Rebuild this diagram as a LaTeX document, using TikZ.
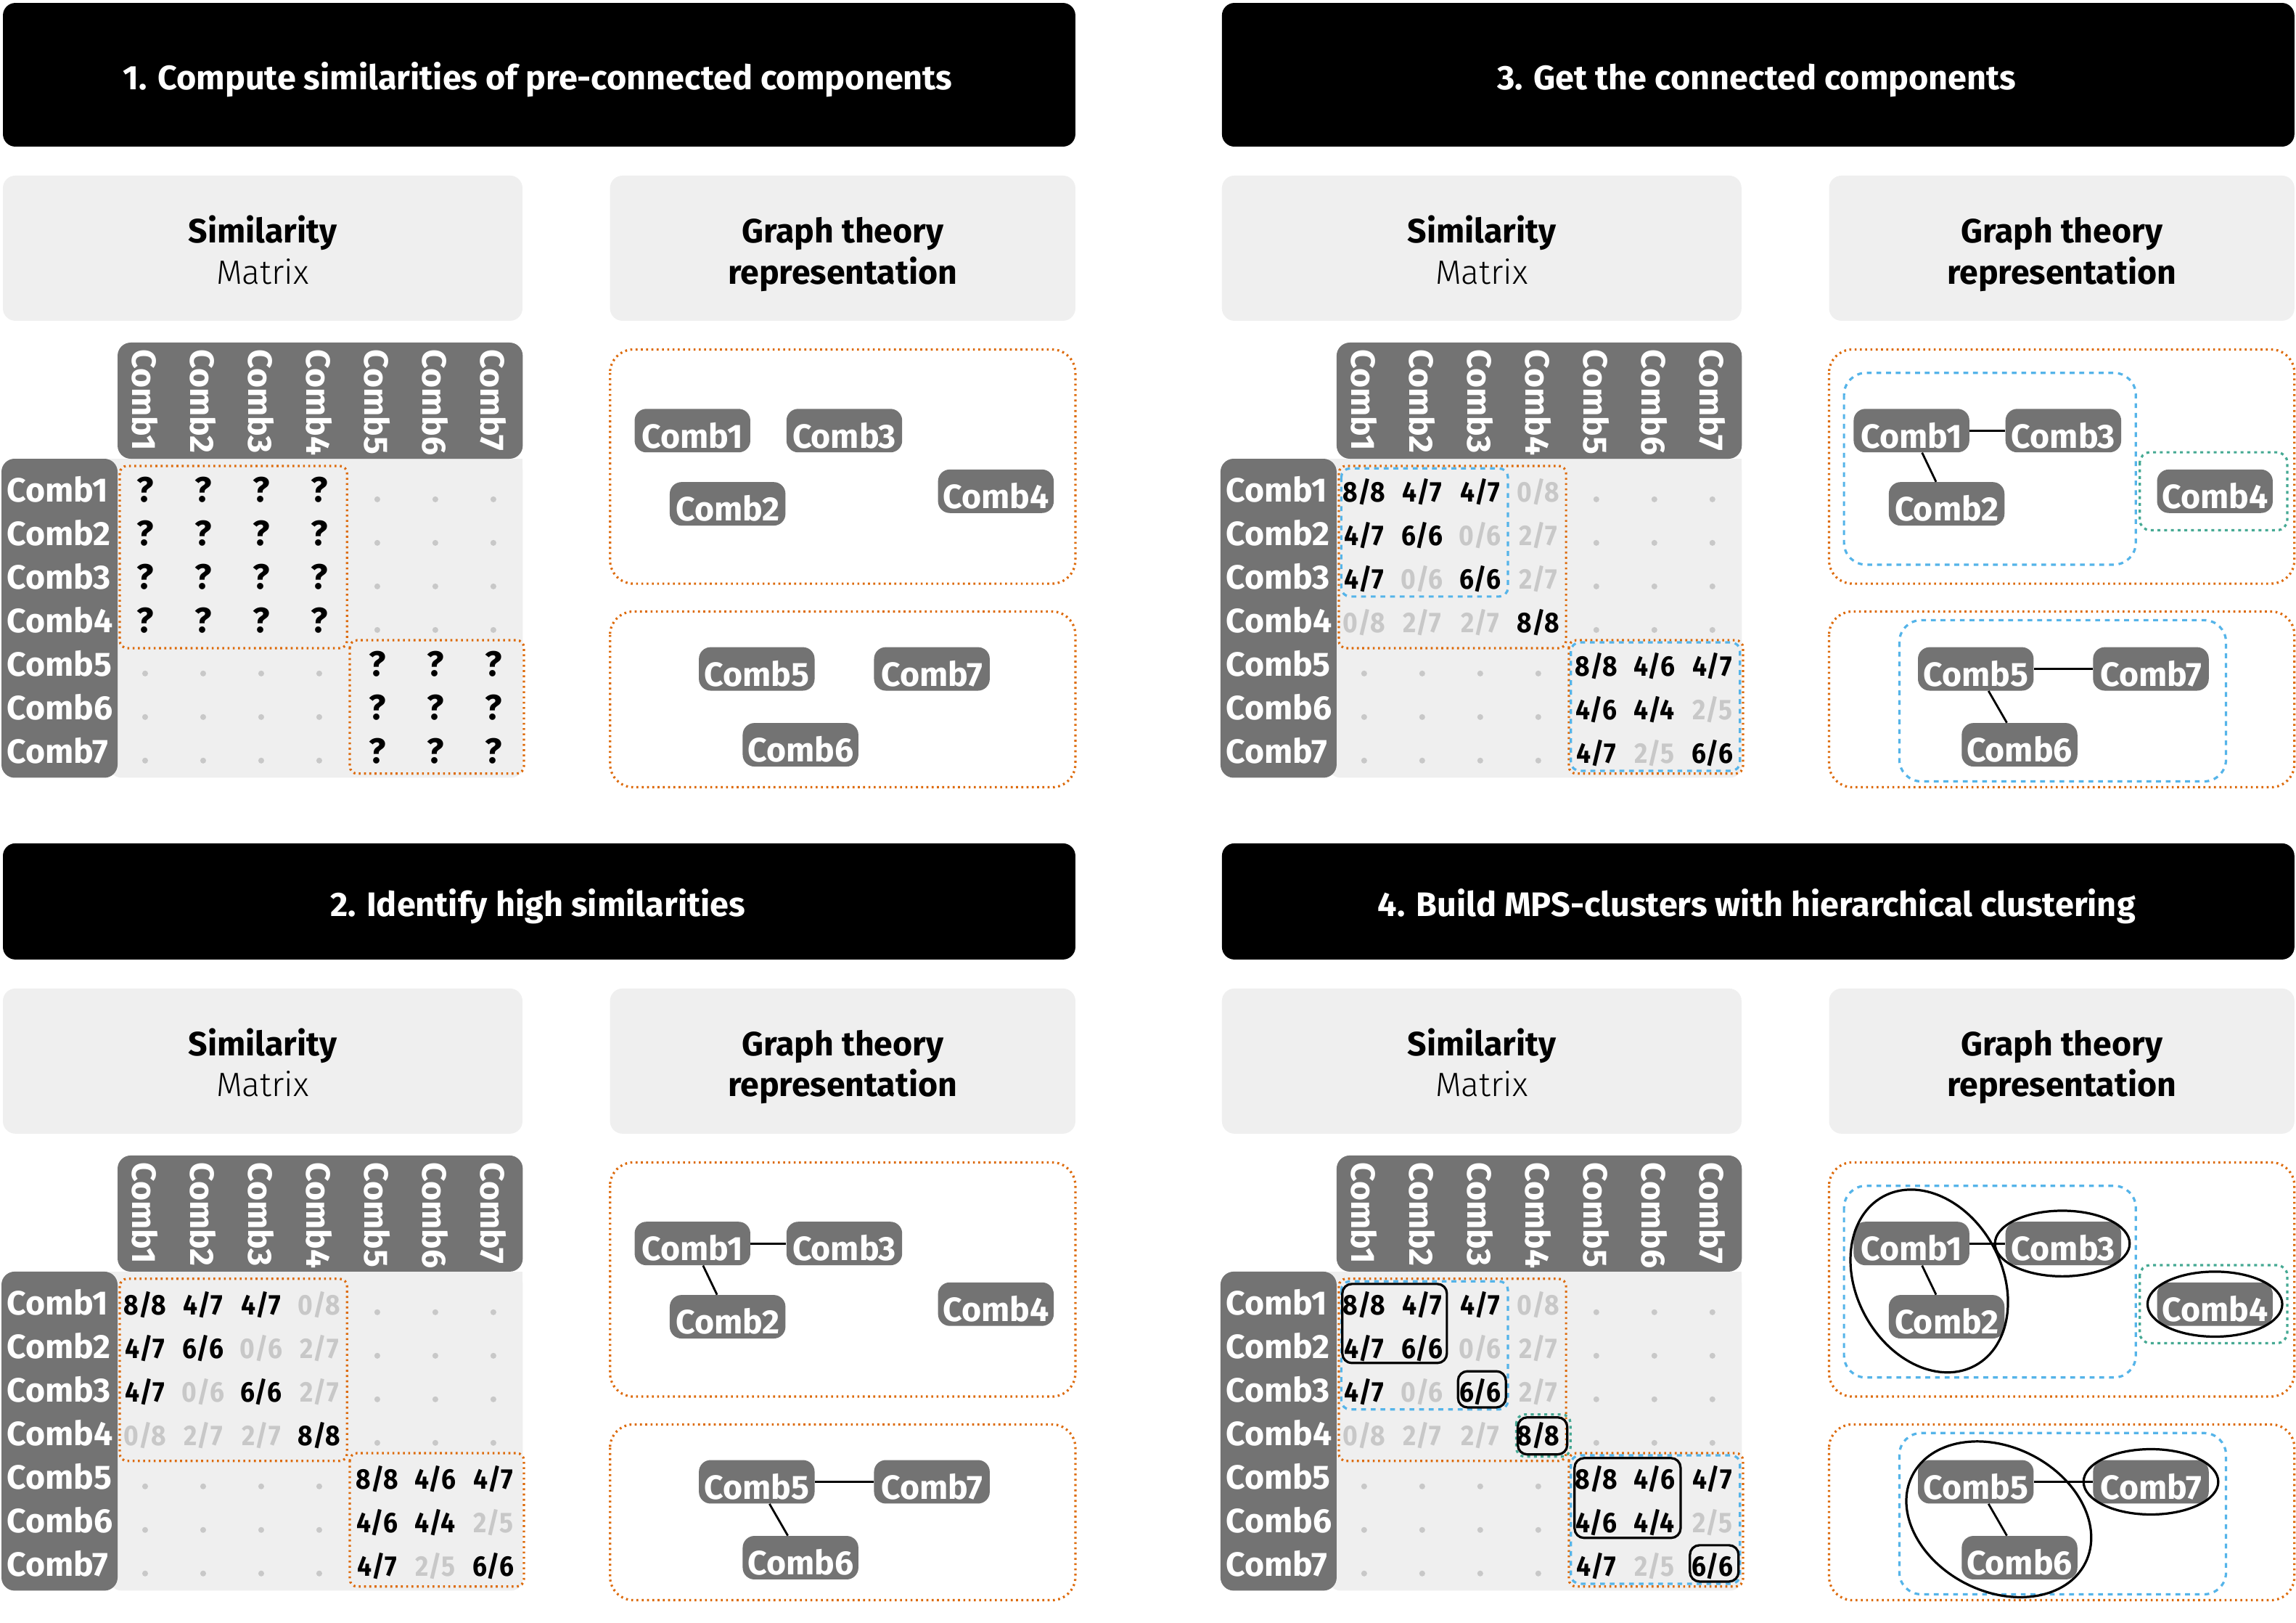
\documentclass[tikz,border=0pt]{standalone}
\usepackage{fontspec}
\setmainfont{Fira Sans}
\newfontfamily\numfont{Fira Sans}[FakeStretch=0.9]
\newfontfamily\lightfont{Fira Sans Light}
\definecolor{dg}{HTML}{737373}
\definecolor{lg}{HTML}{EFEFEF}
\definecolor{mg}{HTML}{C8C8C8}
\definecolor{org}{HTML}{DD6A0A}
\definecolor{sky}{HTML}{55B4E9}
\definecolor{tealc}{HTML}{45A993}
\tikzset{
  hdrbox/.style={fill=black, rounded corners=8.5pt},
  subbox/.style={fill=lg, rounded corners=8.5pt},
  hdrtxt/.style={anchor=base, inner sep=0pt, text=white, font=\fontsize{23.2}{23.2}\selectfont\bfseries},
  subtxtb/.style={anchor=base, inner sep=0pt, font=\fontsize{23}{23}\selectfont\bfseries},
  subtxtl/.style={anchor=base, inner sep=0pt, font=\fontsize{23}{23}\selectfont\lightfont},
  collab/.style={rotate=-90, anchor=west, inner sep=0pt, text=white, font=\fontsize{23}{23}\selectfont\bfseries},
  rowlab/.style={anchor=base west, inner sep=0pt, text=white, font=\fontsize{23}{23}\selectfont\bfseries},
  num/.style={anchor=base, inner sep=0pt, font=\fontsize{19.5}{19.5}\selectfont\numfont\bfseries},
  qm/.style={anchor=base, inner sep=0pt, font=\fontsize{24}{24}\selectfont\bfseries},
  comb/.style={fill=dg, rounded corners=8pt, minimum width=79pt, minimum height=29.7pt, inner sep=0pt,
    text height=23.6pt, text depth=0pt, text=white, font=\fontsize{23}{23}\selectfont\bfseries},
  orbox/.style={draw=org, line width=1.6pt, dash pattern=on 1.3pt off 2.3pt},
  blbox/.style={draw=sky, line width=1.6pt, dash pattern=on 3.3pt off 3.3pt},
  tlbox/.style={draw=tealc, line width=1.6pt, dash pattern=on 2pt off 2.6pt},
  bkbox/.style={draw=black, line width=1.6pt, rounded corners=6.5pt},
  gedge/.style={draw=black, line width=1.4pt},
  ell/.style={draw=black, line width=1.6pt}
}
\newcommand\Header[3]{%
  \fill[hdrbox] (2,#1) rectangle (734.4,100.1);
  \node[hdrtxt] (\pfx hdr) at (367.2,#2) {#3};}
\newcommand\SubHeads{%
  \fill[subbox] (2,119.9) rectangle (356.8,219);
  \fill[subbox] (416.6,119.9) rectangle (734.4,219);
  \node[subtxtb] (\pfx sa) at (179.4,166) {Similarity};
  \node[subtxtl] (\pfx sb) at (179.4,193.8) {Matrix};
  \node[subtxtb] (\pfx sc) at (575.5,166) {Graph theory};
  \node[subtxtb] (\pfx sd) at (575.5,193.8) {representation};}
\newcommand\MatBase{%
  \fill[lg, rounded corners=8pt] (75,313.2) rectangle (357,531);
  \fill[lg] (75,313.2) rectangle (357,330);
  \fill[dg, rounded corners=9pt] (80.3,233.9) rectangle (357,313.2);
  \fill[dg, rounded corners=9pt] (1,313.2) rectangle (80.3,531);
  \foreach \i in {1,...,7}{
    \node[collab] (\pfx col\i) at ({99.1+39.64*(\i-1)},238.6) {Comb\i};
    \node[rowlab] (\pfx row\i) at (4.6,{342.9+29.73*(\i-1)}) {Comb\i};
  }
  \foreach \r in {1,...,4}{\foreach \c in {5,6,7}{
    \fill[mg] ({99.1+39.64*(\c-1)},{340.9+29.73*(\r-1)}) circle (2pt);}}
  \foreach \r in {5,6,7}{\foreach \c in {1,...,4}{
    \fill[mg] ({99.1+39.64*(\c-1)},{340.9+29.73*(\r-1)}) circle (2pt);}}
}
\newcommand\Cell[4]{\node[num,text=#4] (\pfx v#1#2) at ({99.1+39.64*(#2-1)},{342.9+29.73*(#1-1)}) {#3};}
\newcommand\Values{%
  \Cell11{8/8}{black}\Cell12{4/7}{black}\Cell13{4/7}{black}\Cell14{0/8}{mg}
  \Cell21{4/7}{black}\Cell22{6/6}{black}\Cell23{0/6}{mg}\Cell24{2/7}{mg}
  \Cell31{4/7}{black}\Cell32{0/6}{mg}\Cell33{6/6}{black}\Cell34{2/7}{mg}
  \Cell41{0/8}{mg}\Cell42{2/7}{mg}\Cell43{2/7}{mg}\Cell44{8/8}{black}
  \Cell55{8/8}{black}\Cell56{4/6}{black}\Cell57{4/7}{black}
  \Cell65{4/6}{black}\Cell66{4/4}{black}\Cell67{2/5}{mg}
  \Cell75{4/7}{black}\Cell76{2/5}{mg}\Cell77{6/6}{black}}
\newcommand\MatOrange{%
  \draw[orbox, rounded corners=5pt] (81.8,318.1) rectangle (237,442.5);
  \draw[orbox, rounded corners=5pt] (238.9,437.1) rectangle (357.8,528.2);}
\newcommand\MatBlue{%
  \draw[blbox, rounded corners=6pt] (83.5,319.8) rectangle (197.3,407.3);
  \draw[blbox, rounded corners=6pt] (240.3,438.6) rectangle (355.8,526.3);}
\newcommand\GraphBase{%
  \draw[orbox, rounded corners=16pt] (416.6,238.6) rectangle (734.4,398.5);
  \draw[orbox, rounded corners=16pt] (416.6,417.5) rectangle (734.4,537.5);}
\newcommand\GraphBlue{%
  \draw[blbox, rounded corners=15pt] (426.8,254.6) rectangle (626.1,385.5);
  \draw[blbox, rounded corners=15pt] (464.6,423.4) rectangle (687.7,533.5);
  \draw[tlbox, rounded corners=7pt] (628.8,308.8) rectangle (729.5,362);}
\newcommand\GraphNodes{%
  \node[comb] (\pfx n1) at (472.9,294) {Comb1};
  \node[comb] (\pfx n3) at (576.6,294) {Comb3};
  \node[comb] (\pfx n2) at (496.9,344) {Comb2};
  \node[comb] (\pfx n4) at (680.1,335.4) {Comb4};
  \node[comb] (\pfx n5) at (516.8,456.7) {Comb5};
  \node[comb] (\pfx n7) at (636.4,456.7) {Comb7};
  \node[comb] (\pfx n6) at (546.7,508.5) {Comb6};}
\newcommand\GraphEdges{%
  \draw[gedge] (\pfx n1) -- (\pfx n3);
  \draw[gedge] (\pfx n1) -- (\pfx n2);
  \draw[gedge] (\pfx n5) -- (\pfx n7);
  \draw[gedge] (\pfx n5) -- (\pfx n6);}
\begin{document}
\begin{tikzpicture}[x=1pt,y=-1pt]
\useasboundingbox (0,0) rectangle (1568,1108.1);
\fill[white] (0,0) rectangle (1568,1108.1);
% ---------- Panel 1 ----------
\begin{scope}
\def\pfx{pA}
\Header{2}{61}{1. Compute similarities of pre-connected components}
\SubHeads
\MatBase
\foreach \r in {1,...,4}{\foreach \c in {1,...,4}{
  \node[qm] (pAq\r\c) at ({99.1+39.64*(\c-1)},{342.9+29.73*(\r-1)}) {?};}}
\foreach \r in {5,6,7}{\foreach \c in {5,6,7}{
  \node[qm] (pAq\r\c) at ({99.1+39.64*(\c-1)},{342.9+29.73*(\r-1)}) {?};}}
\MatOrange
\GraphBase
\GraphNodes
\end{scope}
% ---------- Panel 3 ----------
\begin{scope}[shift={(832.5,0)}]
\def\pfx{pC}
\Header{2}{61}{3. Get the connected components}
\SubHeads
\MatBase
\Values
\MatOrange
\MatBlue
\GraphBase
\GraphBlue
\GraphNodes
\GraphEdges
\end{scope}
% ---------- Panel 2 ----------
\begin{scope}[shift={(0,555)}]
\def\pfx{pB}
\Header{20.8}{70.5}{2. Identify high similarities}
\SubHeads
\MatBase
\Values
\MatOrange
\GraphBase
\GraphNodes
\GraphEdges
\end{scope}
% ---------- Panel 4 ----------
\begin{scope}[shift={(832.5,555)}]
\def\pfx{pD}
\Header{20.8}{70.5}{4. Build MPS-clusters with hierarchical clustering}
\SubHeads
\MatBase
\Values
\MatOrange
\MatBlue
\draw[tlbox, rounded corners=6pt] (203,410.7) rectangle (240,439.5);
\draw[bkbox] (84.2,321.6) rectangle (155.6,375.6);
\draw[bkbox] (163.2,381.2) rectangle (195.9,405.9);
\draw[bkbox] (204,412.7) rectangle (237.8,438);
\draw[bkbox] (242.8,440.5) rectangle (315.2,495);
\draw[bkbox] (321.6,500) rectangle (354.8,524.8);
\GraphBase
\GraphBlue
\GraphNodes
\GraphEdges
\draw[ell, rotate around={-61.4:(485,319.6)}] (485,319.6) ellipse [x radius=65.7pt, y radius=49.7pt];
\draw[ell] (575.9,294) ellipse [x radius=46pt, y radius=22.4pt];
\draw[ell] (680.1,335.4) ellipse [x radius=46pt, y radius=22.2pt];
\draw[ell, rotate around={-26.8:(532.5,482.3)}] (532.5,482.3) ellipse [x radius=66.2pt, y radius=49.3pt];
\draw[ell] (636.4,456.7) ellipse [x radius=46pt, y radius=22.3pt];
\end{scope}
\end{tikzpicture}
\end{document}
